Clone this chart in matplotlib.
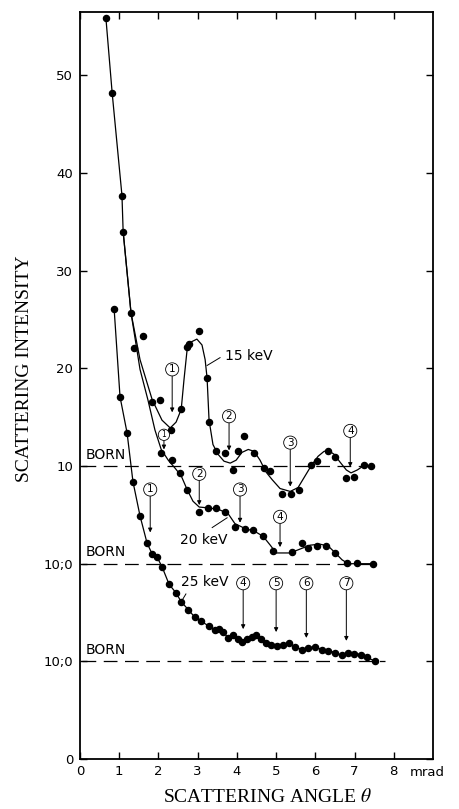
import numpy as np
import matplotlib
matplotlib.use("Agg")
import matplotlib.pyplot as plt
import matplotlib.transforms as mtransforms

plt.rcParams['font.family'] = ['DejaVu Sans']
plt.rcParams['mathtext.fontset'] = 'stix'

# --- datos (escala propia de cada curva, BORN = 10) ---
# 15 keV (desplazada +20 en el eje)
x15_pts = [0.66, 0.82, 1.07, 1.10, 1.30, 1.60, 1.84, 2.04, 2.33, 2.58, 2.72, 2.77, 3.04, 3.24,
           3.29, 3.47, 3.70, 3.91, 4.03, 4.18, 4.44, 4.69, 4.85, 5.15, 5.38, 5.59, 5.88, 6.04,
           6.33, 6.51, 6.78, 6.99, 7.23, 7.42]
y15_pts = [55.9, 48.2, 37.7, 34.0, 25.7, 23.3, 16.6, 16.8, 13.7, 15.8, 22.2, 22.5, 23.8, 19.0,
           14.5, 11.5, 11.3, 9.6, 11.5, 13.1, 11.3, 9.8, 9.5, 7.1, 7.1, 7.5, 10.1, 10.5,
           11.5, 10.9, 8.8, 8.9, 10.1, 10.0]
x15_fit = [0.66, 0.82, 1.07, 1.10, 1.30, 1.53, 1.84, 2.09, 2.30, 2.45, 2.58, 2.65, 2.73, 2.83,
           2.98, 3.11, 3.19, 3.24, 3.29, 3.39, 3.52, 3.67, 3.83, 3.98, 4.13, 4.29, 4.44, 4.59,
           4.74, 4.90, 5.10, 5.36, 5.56, 5.71, 5.89, 6.07, 6.22, 6.33, 6.48, 6.63, 6.79, 6.91,
           7.07, 7.22, 7.42]
y15_fit = [55.9, 48.2, 37.7, 34.0, 25.7, 20.9, 16.8, 14.7, 13.9, 14.5, 15.8, 18.8, 21.9, 22.7,
           23.0, 22.4, 20.9, 19.0, 14.7, 12.2, 11.2, 10.5, 10.3, 10.6, 11.4, 11.7, 11.5, 10.6,
           9.4, 8.6, 7.7, 7.4, 7.8, 8.8, 10.0, 11.0, 11.5, 11.6, 11.2, 10.4, 9.6, 9.3,
           9.6, 10.0, 10.0]

# 20 keV (desplazada +10)
x20_pts = [1.38, 2.07, 2.35, 2.55, 2.73, 3.04, 3.27, 3.47, 3.70, 3.95, 4.21, 4.41, 4.67, 4.92,
           5.41, 5.66, 5.82, 6.05, 6.28, 6.51, 6.81, 7.07, 7.47]
y20_pts = [32.1, 21.3, 20.6, 19.3, 17.5, 15.3, 15.7, 15.7, 15.3, 13.8, 13.6, 13.5, 12.8, 11.3,
           11.2, 12.1, 11.6, 11.8, 11.8, 11.1, 10.1, 10.1, 10.0]
x20_fit = [1.10, 1.30, 1.53, 1.73, 1.91, 2.07, 2.25, 2.42, 2.58, 2.73, 2.88, 3.04, 3.32, 3.57,
           3.78, 3.95, 4.21, 4.46, 4.67, 4.85, 5.00, 5.36, 5.61, 5.87, 6.12, 6.33, 6.51, 6.68,
           6.84, 7.07, 7.47]
y20_fit = [44.0, 35.7, 29.9, 26.8, 23.7, 21.7, 20.6, 19.8, 19.0, 17.6, 16.4, 15.8, 15.7, 15.5,
           15.1, 14.1, 13.6, 13.3, 12.8, 11.9, 11.1, 11.1, 11.5, 11.9, 12.0, 11.8, 11.1, 10.4,
           10.0, 10.0, 10.0]

# 25 keV (sin desplazamiento)
x25_pts = [0.87, 1.02, 1.20, 1.35, 1.53, 1.71, 1.84, 1.96, 2.09, 2.27, 2.45, 2.58, 2.76, 2.93,
           3.09, 3.29, 3.44, 3.55, 3.65, 3.78, 3.90, 4.03, 4.13, 4.26, 4.39, 4.49, 4.62, 4.74,
           4.87, 5.03, 5.18, 5.33, 5.48, 5.66, 5.82, 5.99, 6.17, 6.33, 6.51, 6.68, 6.84, 6.99,
           7.17, 7.32, 7.53]
y25_pts = [46.1, 37.1, 33.4, 28.4, 24.9, 22.1, 21.0, 20.7, 19.7, 17.9, 17.0, 16.1, 15.3, 14.5,
           14.1, 13.6, 13.2, 13.3, 13.0, 12.4, 12.7, 12.3, 12.0, 12.3, 12.5, 12.7, 12.3, 11.9,
           11.7, 11.6, 11.7, 11.9, 11.5, 11.2, 11.4, 11.5, 11.2, 11.1, 10.9, 10.6, 10.9, 10.8,
           10.7, 10.4, 10.0]

born = 10
offsets = {'15': 20, '20': 10, '25': 0}
born_xmax = {'15': 7.47, '20': 7.47, '25': 7.78}

# marcas de los minimos: (numero, x, y circulo, y punta)
marks15 = [(1, 2.35, 19.9, 15.5), (2, 3.80, 15.1, 11.6), (3, 5.36, 12.4, 7.9), (4, 6.89, 13.6, 9.9)]
marks20 = [(1, 2.14, 23.2, 21.7), (2, 3.04, 19.2, 16.0), (3, 4.08, 17.6, 14.2), (4, 5.10, 14.8, 11.7)]
marks25 = [(1, 1.79, 27.6, 23.2), (4, 4.16, 18.0, 13.3), (5, 5.00, 18.0, 13.0),
           (6, 5.77, 18.0, 12.4), (7, 6.79, 18.0, 12.1)]

ytick_pos = [0, 10, 20, 30, 40, 50, 60, 70]
ytick_lab = ['0', '10;0', '10;0', '10', '20', '30', '40', '50']
xtick_pos = [0, 1, 2, 3, 4, 5, 6, 7, 8]

fig = plt.figure(figsize=(4.59, 8.09), dpi=100)
ax = fig.add_axes([0.1743, 0.0618, 0.9434 - 0.1743, 0.9852 - 0.0618])

series = [('15', x15_pts, y15_pts, x15_fit, y15_fit, marks15),
          ('20', x20_pts, y20_pts, x20_fit, y20_fit, marks20),
          ('25', x25_pts, y25_pts, x25_pts, y25_pts, marks25)]

for key, xp, yp, xf, yf, marks in series:
    off = offsets[key]
    ax.plot(xf, np.array(yf) + off, color='black', lw=0.9, zorder=3)
    ax.plot(xp, np.array(yp) + off, 'o', color='black', ms=4.4, zorder=4)
    # linea BORN
    ax.plot([0.05, born_xmax[key]], [born + off, born + off], color='black', lw=0.9,
            dashes=(11, 6), zorder=2)
    ax.text(0.15, born + off + 1.15, 'BORN', fontsize=10, ha='left', va='center')
    for n, x, yc, yt in marks:
        small = (key == '20' and n == 1)
        ax.annotate(str(n), xy=(x, yt + off), xytext=(x, yc + off),
                    ha='center', va='center', fontsize=5.5 if small else 7.5,
                    bbox=dict(boxstyle='circle,pad=0.15', fc='white', ec='black', lw=0.6),
                    arrowprops=dict(arrowstyle='-|>', color='black', lw=0.7,
                                    mutation_scale=6, shrinkA=0, shrinkB=0),
                    zorder=5)

# etiquetas de energia con su linea guia
ax.text(3.70, 21.3 + 20, '15 keV', fontsize=10, ha='left', va='center')
ax.plot([3.24, 3.57], [20.3 + 20, 21.1 + 20], color='black', lw=0.7)
ax.text(2.55, 12.4 + 10, '20 keV', fontsize=10, ha='left', va='center')
ax.plot([3.37, 3.75], [13.7 + 10, 14.7 + 10], color='black', lw=0.7)
ax.text(2.58, 18.1, '25 keV', fontsize=10, ha='left', va='center')
ax.plot([2.70, 2.58], [16.9, 16.1], color='black', lw=0.7)

ax.set_xlim(0, 9)
ax.set_ylim(0, 76.5)
ax.set_xticks(xtick_pos)
ax.set_yticks(ytick_pos)
ax.set_yticklabels(ytick_lab)
ax.tick_params(direction='in', top=True, right=True, length=5, width=1,
               labelsize=9.5, pad=4)
ax.tick_params(axis='y', pad=5)
for sp in ax.spines.values():
    sp.set_linewidth(1.3)

trans = mtransforms.blended_transform_factory(ax.transData, ax.transAxes)
ax.text(8.85, -0.0175, 'mrad', transform=trans, fontsize=9.5, ha='center', va='center')

ax.set_xlabel(r'SCATTERING ANGLE $\theta$', family='Liberation Serif', fontsize=14, va='center')
ax.xaxis.set_label_coords(0.532, -0.051)
ax.set_ylabel('SCATTERING INTENSITY', family='Liberation Serif', fontsize=14, va='center')
ax.yaxis.set_label_coords(-0.156, 0.522)

plt.savefig('out.png', dpi=100)
